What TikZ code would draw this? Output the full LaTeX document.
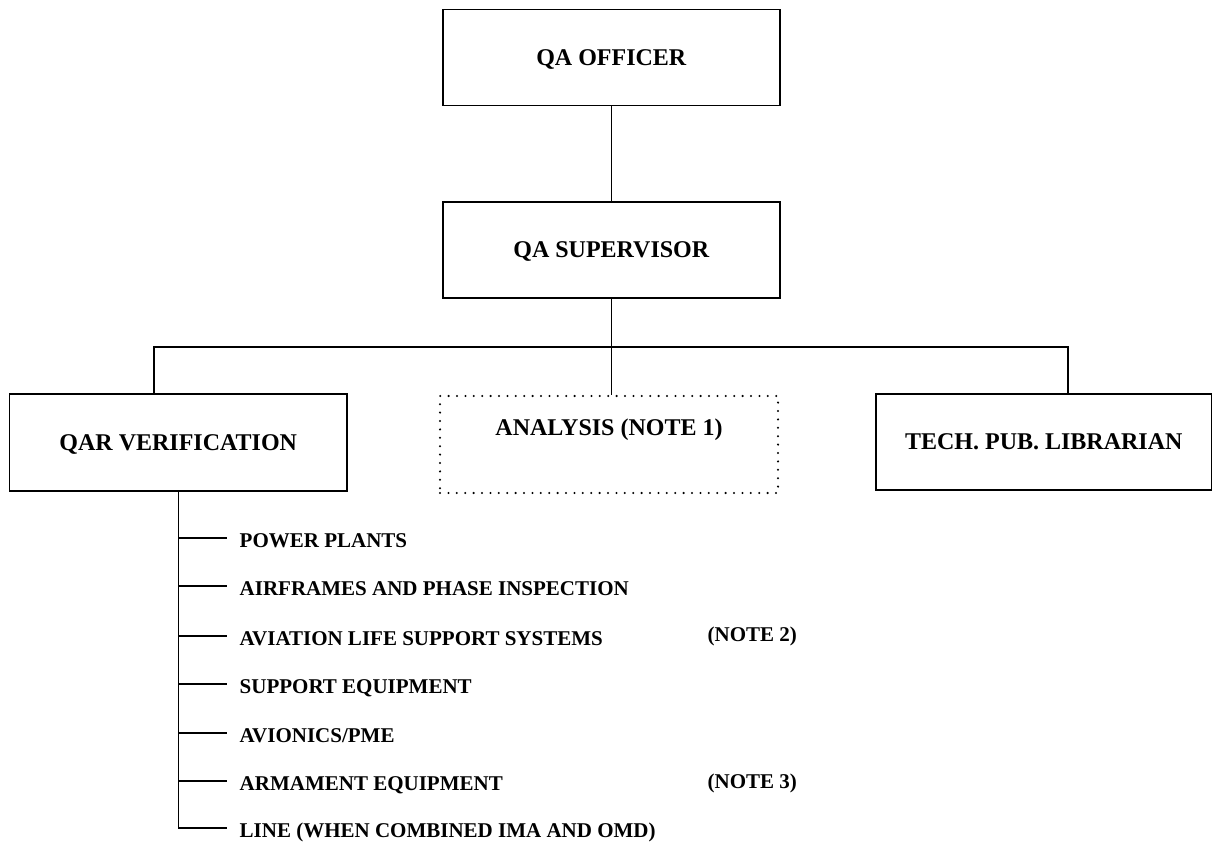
\documentclass[tikz,border=0pt]{standalone}
\usepackage{fontspec}
\setmainfont{Liberation Serif}
\begin{document}
\begin{tikzpicture}[x=1pt,y=-1pt,
  every path/.style={line width=1.4pt},
  orgbox/.style={draw, line width=1.4pt, rectangle, inner sep=0pt, minimum width=337pt, minimum height=96pt,
    text height=15.9pt, text depth=0pt, font=\fontsize{24}{28}\selectfont\bfseries},
  dotbox/.style={draw, rectangle, inner sep=0pt, minimum width=338pt, minimum height=97pt,
    line width=2.3pt, line cap=round, dash pattern=on 0pt off 8.4pt},
  boxtext/.style={inner sep=0pt, text height=15.9pt, text depth=0pt, font=\fontsize{24}{28}\selectfont\bfseries},
  item/.style={anchor=west, inner xsep=12pt, inner ysep=0pt, text height=18.9pt, text depth=0pt,
    font=\fontsize{21}{25}\selectfont\bfseries},
  note/.style={anchor=west, inner sep=0pt, text height=13.9pt, text depth=0pt,
    font=\fontsize{21}{25}\selectfont\bfseries}]
\useasboundingbox (0,0) rectangle (1213,842);

\node[orgbox] (officer) at (611.3,57.6) {QA OFFICER};
\node[orgbox] (supervisor) at (611.3,250) {QA SUPERVISOR};
\node[orgbox, minimum width=337.5pt, minimum height=97pt] (qar) at (178.25,442.5) {QAR VERIFICATION};
\node[dotbox] (analysis) at (609,444.5) {};
\node[boxtext] (analysistxt) at (609,427.5) {ANALYSIS (NOTE 1)};
\node[orgbox, minimum width=335.5pt] (tech) at (1043.75,442) {TECH. PUB. LIBRARIAN};

\coordinate (busL) at (154,347);
\coordinate (busR) at (1068,347);

\draw (officer.south) -- (supervisor.north);
\draw (qar.north -| busL) |- (busR) -- (tech.north -| busR);
\draw (supervisor.south) -- (supervisor.south |- analysis.north);

\node[item] (i1) at (227,538) {POWER PLANTS};
\node[item] (i2) at (227,586) {AIRFRAMES AND PHASE INSPECTION};
\node[item] (i3) at (227,636) {AVIATION LIFE SUPPORT SYSTEMS};
\node[item] (i4) at (227,684) {SUPPORT EQUIPMENT};
\node[item] (i5) at (227,733) {AVIONICS/PME};
\node[item] (i6) at (227,781) {ARMAMENT EQUIPMENT};
\node[item] (i7) at (227,828) {LINE (WHEN COMBINED IMA AND OMD)};

\node[note] (note2) at (707,635) {(NOTE 2)};
\node[note] (note3) at (707,782) {(NOTE 3)};

\draw (qar.south) |- (i7.west);
\foreach \i in {1,...,6} {
  \draw (qar.south |- i\i.west) -- (i\i.west);
}
\end{tikzpicture}
\end{document}
